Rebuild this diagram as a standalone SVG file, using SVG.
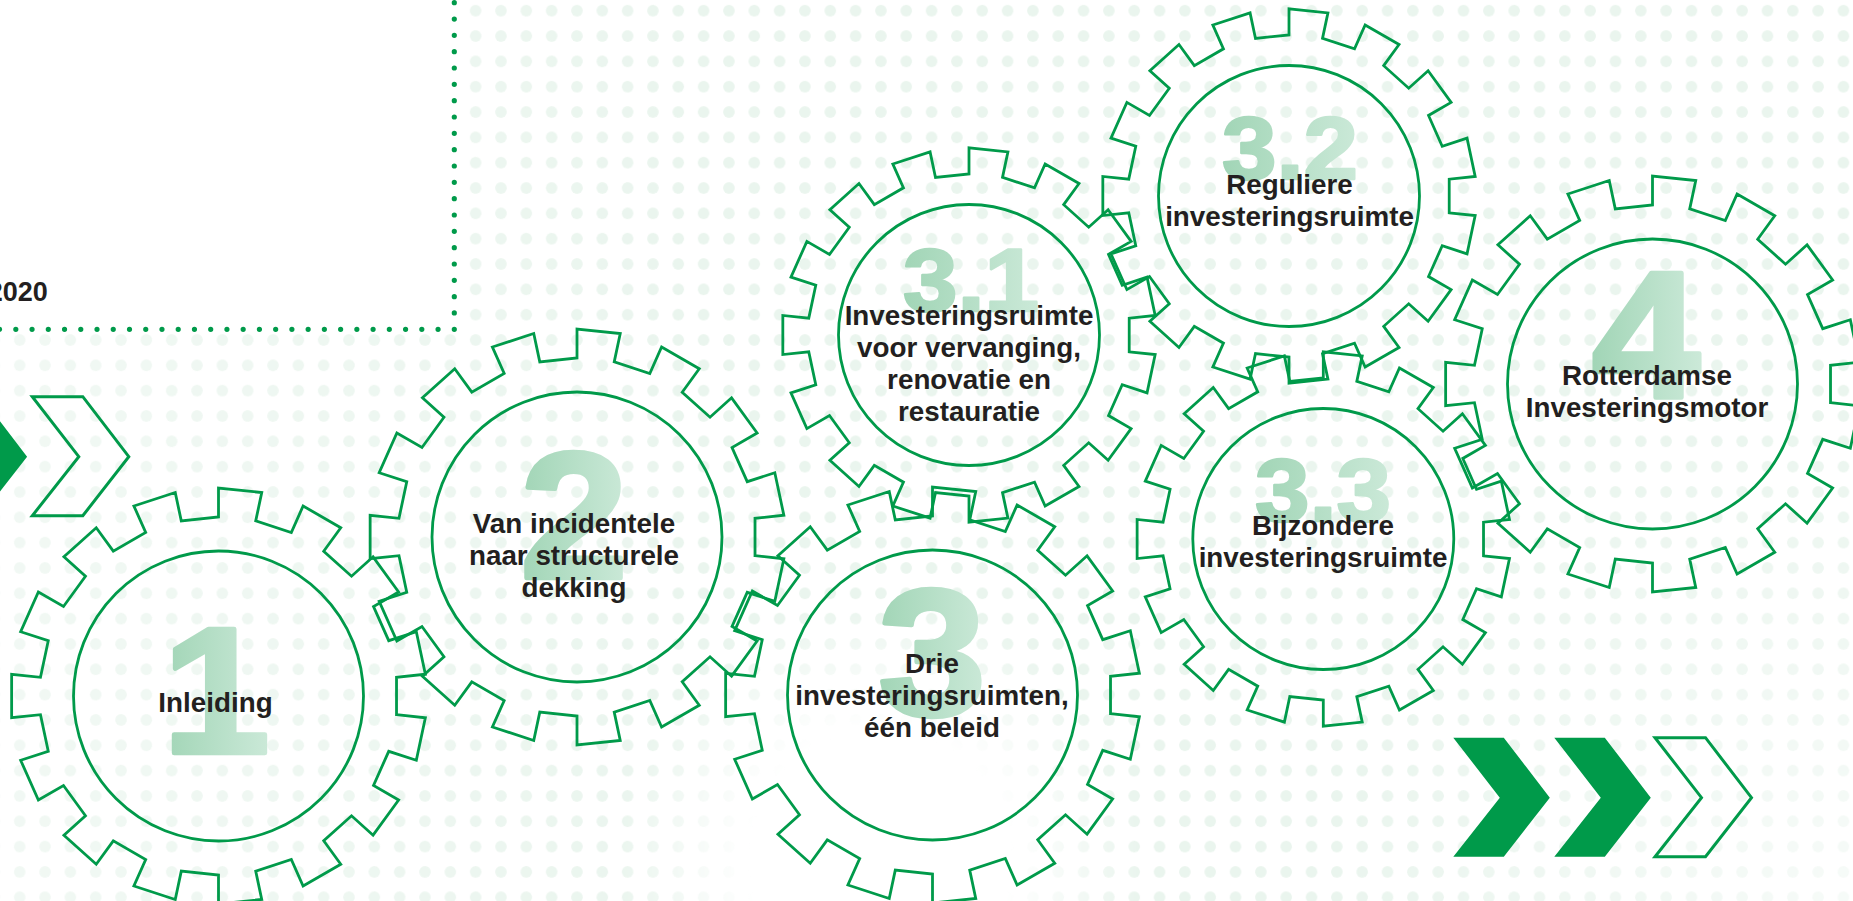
<svg xmlns="http://www.w3.org/2000/svg" xmlns:xlink="http://www.w3.org/1999/xlink" width="1853" height="901" viewBox="0 0 1853 901">
  <style>
    .gear{fill:none;stroke:#009a4a;stroke-width:2.8;stroke-linejoin:miter}
    .gear.small{stroke-width:3.1}
    .num{font-family:"Liberation Sans",Arial,Helvetica,sans-serif;font-weight:700;fill:url(#numFill);stroke:url(#numFill);stroke-linejoin:round;text-anchor:middle}
    .num.big{stroke-width:4.5}
    .num.mid{stroke-width:2.6}
    .lbl{font-family:"Liberation Sans",Arial,Helvetica,sans-serif;font-weight:700;font-size:27.8px;fill:#231f20;text-anchor:middle}
    .dotline{fill:none;stroke:#009a4a;stroke-width:5.2;stroke-linecap:round}
    .chev-solid{fill:#009a4a}
    .chev-open{fill:none;stroke:#009a4a;stroke-width:3}
  </style>
  <defs>
    <pattern id="dots" patternUnits="userSpaceOnUse" x="7.035" y="-1.965" width="25.33" height="25.33">
      <circle cx="12.665" cy="12.665" r="5.8" fill="#eaf5ee"/>
    </pattern>
    <linearGradient id="fadeBase" gradientUnits="userSpaceOnUse" x1="0" y1="0" x2="700" y2="0">
      <stop offset="0" stop-color="#a8a8a8"/>
      <stop offset="1" stop-color="#ffffff"/>
    </linearGradient>
    <radialGradient id="hole" gradientUnits="userSpaceOnUse" cx="880" cy="860" r="260">
      <stop offset="0" stop-color="#000"/>
      <stop offset="0.5" stop-color="#000"/>
      <stop offset="1" stop-color="#000" stop-opacity="0"/>
    </radialGradient>
    <radialGradient id="cornerFade" gradientUnits="userSpaceOnUse" cx="1853" cy="901" r="520">
      <stop offset="0" stop-color="#000" stop-opacity="0.6"/>
      <stop offset="1" stop-color="#000" stop-opacity="0"/>
    </radialGradient>
    <mask id="dotMask" maskUnits="userSpaceOnUse" x="0" y="0" width="1853" height="901">
      <rect width="1853" height="901" fill="url(#fadeBase)"/>
      <rect width="1853" height="901" fill="url(#hole)"/>
      <rect width="1853" height="901" fill="url(#cornerFade)"/>
    </mask>
    <linearGradient id="numFill" x1="0" y1="0" x2="1" y2="0">
      <stop offset="0" stop-color="#a1d5b6"/>
      <stop offset="1" stop-color="#cbe9d8"/>
    </linearGradient>
    <!-- 15-tooth gear outline with inner ring, centred on the origin -->
    <g id="gearShape">
      <path d="M178.02,18.71 L206.86,21.74 L197.82,64.28 L170.24,55.31 L155.02,89.5 L180.13,104 L154.57,139.18 L133.02,119.77 L105.21,144.81 L122.26,168.28 L84.6,190.02 L72.81,163.53 L37.22,175.09 L43.25,203.46 L0,208 L0,179 L-37.22,175.09 L-43.25,203.46 L-84.6,190.02 L-72.81,163.53 L-105.21,144.81 L-122.26,168.28 L-154.57,139.18 L-133.02,119.77 L-155.02,89.5 L-180.13,104 L-197.82,64.28 L-170.24,55.31 L-178.02,18.71 L-206.86,21.74 L-206.86,-21.74 L-178.02,-18.71 L-170.24,-55.31 L-197.82,-64.28 L-180.13,-104 L-155.02,-89.5 L-133.02,-119.77 L-154.57,-139.18 L-122.26,-168.28 L-105.21,-144.81 L-72.81,-163.53 L-84.6,-190.02 L-43.25,-203.46 L-37.22,-175.09 L0,-179 L0,-208 L43.25,-203.46 L37.22,-175.09 L72.81,-163.53 L84.6,-190.02 L122.26,-168.28 L105.21,-144.81 L133.02,-119.77 L154.57,-139.18 L180.13,-104 L155.02,-89.5 L170.24,-55.31 L197.82,-64.28 L206.86,-21.74 L178.02,-18.71 Z"/>
      <circle r="145"/>
    </g>
    <path id="chev" d="M0,0 H50.5 L96.5,60 L50.5,119 H0 L46.5,60 Z"/>
  </defs>

  <!-- background -->
  <rect width="1853" height="901" fill="#ffffff"/>
  <rect width="1853" height="901" fill="url(#dots)" mask="url(#dotMask)"/>
  <rect x="0" y="0" width="463" height="331" fill="#ffffff"/>
  <path class="dotline" d="M454.3,2.7 V329.3" stroke-dasharray="0 16.33"/>
  <path class="dotline" d="M454.3,329.3 H-0.5" stroke-dasharray="0 16.24"/>
  <text x="47.7" y="301" text-anchor="end" font-family="'Liberation Sans',Arial,sans-serif" font-weight="700" font-size="27" fill="#231f20">2020</text>

  <!-- chevrons -->
  <g id="decor">
    <use xlink:href="#chev" class="chev-solid" transform="translate(-69.4,396.7)"/>
    <use xlink:href="#chev" class="chev-open" transform="translate(32.3,396.7)"/>
    <use xlink:href="#chev" class="chev-solid" transform="translate(1453.3,737.7)"/>
    <use xlink:href="#chev" class="chev-solid" transform="translate(1554.3,737.7)"/>
    <use xlink:href="#chev" class="chev-open" transform="translate(1655,737.7)"/>
  </g>

  <!-- connectors: the gears touch directly, no separate lines -->
  <g id="connectors"/>

  <g id="gear-1">
    <text class="num big" font-size="180" transform="translate(216,753) scale(1.08,1)">1</text>
    <use xlink:href="#gearShape" class="gear" transform="translate(218.5,696)"/>
    <text class="lbl" x="215.5" y="711.7">Inleiding</text>
  </g>

  <g id="gear-2">
    <text class="num big" font-size="180" transform="translate(574,578) scale(1.08,1)">2</text>
    <use xlink:href="#gearShape" class="gear" transform="translate(577,537)"/>
    <text class="lbl" x="574" y="533.3">Van incidentele</text>
    <text class="lbl" x="574" y="565">naar structurele</text>
    <text class="lbl" x="574" y="596.7">dekking</text>
  </g>

  <g id="gear-3">
    <text class="num big" font-size="180" transform="translate(932,715) scale(1.08,1)">3</text>
    <use xlink:href="#gearShape" class="gear" transform="translate(932.5,695)"/>
    <text class="lbl" x="932" y="673.3">Drie</text>
    <text class="lbl" x="932" y="705">investeringsruimten,</text>
    <text class="lbl" x="932" y="737.3">één beleid</text>
  </g>

  <g id="gear-3-1">
    <text class="num mid" font-size="89" transform="translate(971,310.7) scale(1.1,1)">3.1</text>
    <use xlink:href="#gearShape" class="gear small" transform="translate(969,335) scale(0.9)"/>
    <text class="lbl" x="969" y="325">Investeringsruimte</text>
    <text class="lbl" x="969" y="357.3">voor vervanging,</text>
    <text class="lbl" x="969" y="389.3">renovatie en</text>
    <text class="lbl" x="969" y="421">restauratie</text>
  </g>

  <g id="gear-3-2">
    <text class="num mid" font-size="89" transform="translate(1290,179) scale(1.1,1)">3.2</text>
    <use xlink:href="#gearShape" class="gear small" transform="translate(1289,196) scale(0.9)"/>
    <text class="lbl" x="1289.5" y="194.3">Reguliere</text>
    <text class="lbl" x="1289.5" y="226">investeringsruimte</text>
  </g>

  <g id="gear-3-3">
    <text class="num mid" font-size="89" transform="translate(1323,521) scale(1.1,1)">3.3</text>
    <use xlink:href="#gearShape" class="gear small" transform="translate(1323.3,539) scale(0.9)"/>
    <text class="lbl" x="1323" y="535">Bijzondere</text>
    <text class="lbl" x="1323" y="566.7">investeringsruimte</text>
  </g>

  <g id="gear-4">
    <text class="num big" font-size="180" transform="translate(1646,396.5) scale(1.08,1)">4</text>
    <use xlink:href="#gearShape" class="gear" transform="translate(1652.5,384)"/>
    <text class="lbl" x="1647" y="385">Rotterdamse</text>
    <text class="lbl" x="1647" y="416.7">Investeringsmotor</text>
  </g>
</svg>
